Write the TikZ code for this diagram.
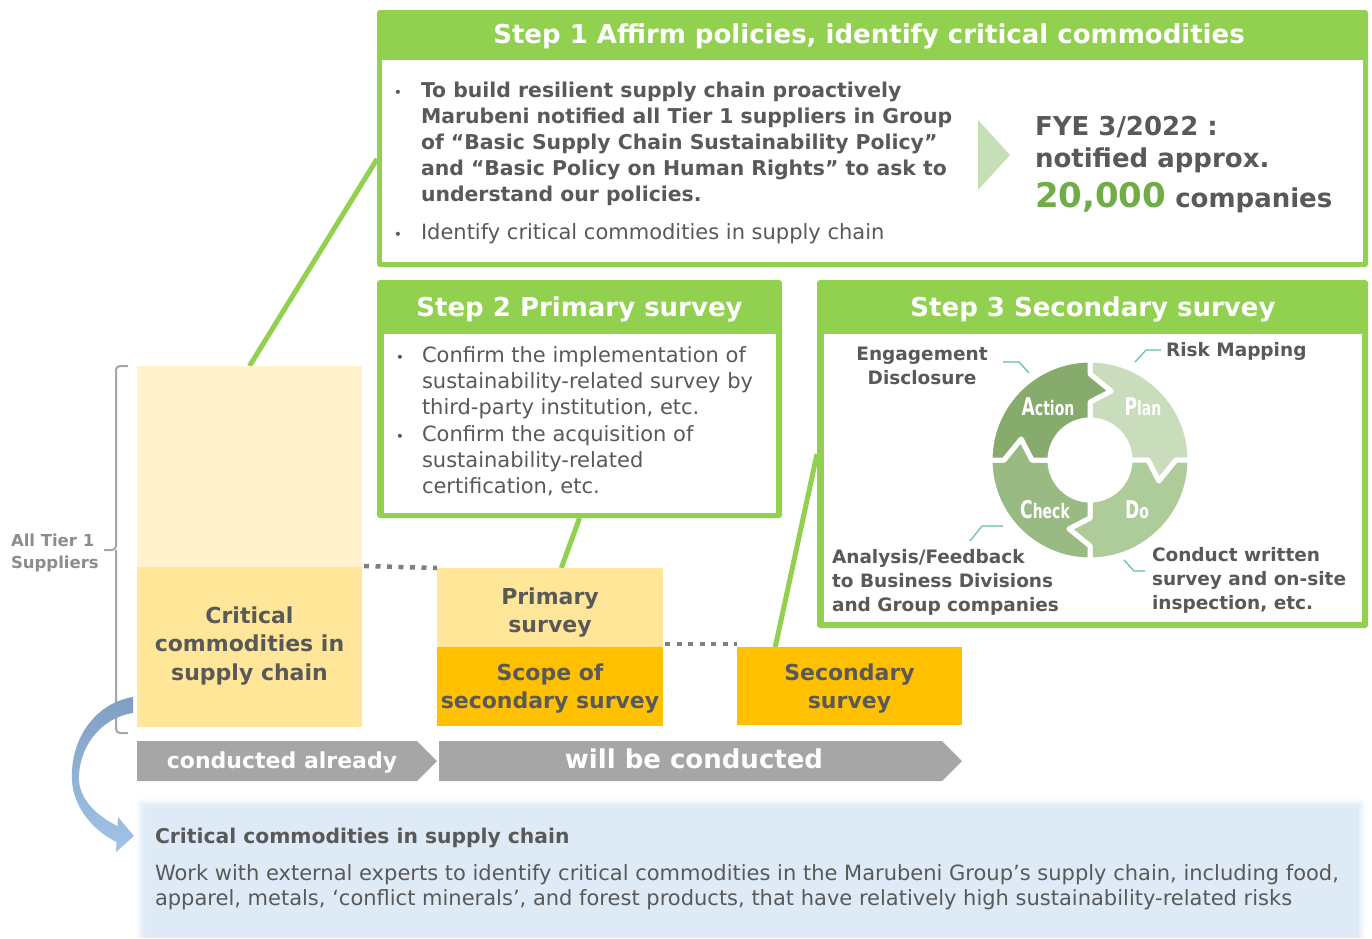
\documentclass[tikz,border=0pt]{standalone}
\usepackage{fontspec}
\setmainfont{DejaVu Sans}
\usepackage{graphicx}
\usetikzlibrary{calc,backgrounds}

\definecolor{stepgreen}{HTML}{92D050}
\definecolor{txtgray}{HTML}{595959}
\definecolor{numgreen}{HTML}{70AD47}
\definecolor{paleyellow}{HTML}{FFF2CC}
\definecolor{lightyellow}{HTML}{FFE699}
\definecolor{amber}{HTML}{FFC000}
\definecolor{chevgray}{HTML}{A6A6A6}
\definecolor{dotgray}{HTML}{7F7F7F}
\definecolor{tiergray}{HTML}{8C8C8C}
\definecolor{arrowpale}{HTML}{C5E0B4}
\definecolor{leadercol}{HTML}{5FC19E}
\definecolor{pdcaA}{HTML}{86AB6C}
\definecolor{pdcaP}{HTML}{C9DDBC}
\definecolor{pdcaD}{HTML}{AECC9A}
\definecolor{pdcaC}{HTML}{99BB83}
\definecolor{noteblue}{HTML}{DEEBF7}
\definecolor{arrowtop}{HTML}{7F9FC2}
\definecolor{arrowbot}{HTML}{A0C4E8}

\newcommand\setfs[2]{\fontsize{#1pt}{#2pt}\selectfont}
% one quarter of the PDCA ring: arrow tip at its leading end, notch at its trailing end
\newcommand\pdcapart[2]{%
  \filldraw[fill=#2, draw=white, line width=5pt, line join=round]
    (#1:100) arc[start angle=#1, end angle=#1+90, radius=100]
    -- (#1+90:86) -- (#1+90+17:72) -- (#1+90:58) -- (#1+90:40)
    arc[start angle=#1+90, end angle=#1, radius=40]
    -- (#1:58) -- (#1+17:72) -- (#1:86) -- cycle;}
% big initial + condensed rest for the cycle labels
\newcommand\cyclbl[2]{\scalebox{0.7}[1]{\bfseries{\setfs{24.5}{25}#1}{\setfs{20}{20}#2}}}

\begin{document}
\begin{tikzpicture}[x=1pt,y=-1pt,
  every node/.style={inner sep=0pt, outer sep=0pt},
  panel/.style={fill=stepgreen, rounded corners=3pt, anchor=north west},
  panelbody/.style={fill=white, anchor=north west},
  headtxt/.style={text=white, font=\bfseries\setfs{26}{30}, anchor=base},
  bodytxt/.style={text=txtgray, anchor=base west, align=left},
  bul/.style={text=txtgray, font=\setfs{14}{14}, anchor=base},
  block/.style={anchor=north west},
  blocktxt/.style={text=txtgray, font=\bfseries\setfs{22}{28.5}, align=center, anchor=base},
  chevtxt/.style={text=white, anchor=base},
  pdcalbl/.style={text=txtgray, font=\bfseries\setfs{18.5}{24}},
  ringtxt/.style={text=white, anchor=base},
  link/.style={stepgreen, line width=5pt},
  dots/.style={dotgray, line width=4.5pt, dash pattern=on 5pt off 6.5pt},
  leader/.style={leadercol, line width=1.2pt},
  brace/.style={chevgray, line width=2pt, rounded corners=4pt}]

\begin{scope}[on background layer]
  \fill[white] (0,0) rectangle (1372,938);
\end{scope}
\useasboundingbox (0,0) rectangle (1372,938);

% multi-line texts are anchored at the baseline of their last line

% ---------- Step 1 ----------
\node[panel, minimum width=991, minimum height=257] (s1) at (377,10) {};
\node[panelbody, minimum width=981, minimum height=202] (s1b) at (382,60) {};
\node[headtxt] (s1h) at (869,43) {Step 1 Affirm policies, identify critical commodities};
\node[bul] (s1d1) at (398,97) {•};
\node[bodytxt, font=\bfseries\setfs{20.4}{26.2}] (s1t1) at (421,201.8)
  {To build resilient supply chain proactively\\
   Marubeni notified all Tier 1 suppliers in Group\\
   of “Basic Supply Chain Sustainability Policy”\\
   and “Basic Policy on Human Rights” to ask to\\
   understand our policies.};
\node[bul] (s1d2) at (398,239) {•};
\node[bodytxt, font=\setfs{21}{26}] (s1t2) at (421,239) {Identify critical commodities in supply chain};
\fill[arrowpale] (978,120) -- (1010,155) -- (978,190) -- cycle;
\node[bodytxt, font=\bfseries\setfs{26}{32}] (fye) at (1035,167) {FYE 3/2022 :\\ notified approx.};
\node[bodytxt, font=\bfseries\setfs{26}{32}] (cnt) at (1035,207)
  {{\color{numgreen}\setfs{34}{34}20,000} companies};

% ---------- Step 2 ----------
\node[panel, minimum width=405, minimum height=238] (s2) at (377,280) {};
\node[panelbody, minimum width=392, minimum height=179] (s2b) at (384,334) {};
\node[headtxt] (s2h) at (579.5,316) {Step 2 Primary survey};
\node[bul] (s2d1) at (400,362) {•};
\node[bodytxt, font=\setfs{21}{26.3}] (s2t1) at (422,414.6)
  {Confirm the implementation of\\ sustainability-related survey by\\ third-party institution, etc.};
\node[bul] (s2d2) at (400,441) {•};
\node[bodytxt, font=\setfs{21}{26.3}] (s2t2) at (422,493.6)
  {Confirm the acquisition of\\ sustainability-related\\ certification, etc.};

% ---------- Step 3 ----------
\node[panel, minimum width=551, minimum height=348] (s3) at (817,280) {};
\node[panelbody, minimum width=538, minimum height=288] (s3b) at (824,334) {};
\node[headtxt] (s3h) at (1093,316) {Step 3 Secondary survey};

\begin{scope}[shift={(1090,460)}]
  \pdcapart{-90}{pdcaP}
  \pdcapart{0}{pdcaD}
  \pdcapart{90}{pdcaC}
  \pdcapart{180}{pdcaA}
\end{scope}
\node[ringtxt] (act) at (1048,415) {\cyclbl{A}{ction}};
\node[ringtxt] (pln) at (1143,415) {\cyclbl{P}{lan}};
\node[ringtxt] (chk) at (1045,518) {\cyclbl{C}{heck}};
\node[ringtxt] (dox) at (1137,518) {\cyclbl{D}{o}};

\node[pdcalbl, align=center, anchor=base] (eng) at (922,384) {Engagement\\ Disclosure};
\node[pdcalbl, anchor=base west] (risk) at (1166,356) {Risk Mapping};
\node[pdcalbl, align=left, anchor=base west] (ana) at (832,611) {Analysis/Feedback\\ to Business Divisions\\ and Group companies};
\node[pdcalbl, align=left, anchor=base west] (cond) at (1152,609) {Conduct written\\ survey and on-site\\ inspection, etc.};
\coordinate (engA) at (1003,362); \coordinate (engB) at (1019,362); \coordinate (engC) at (1029,373);
\coordinate (riskA) at (1135,362); \coordinate (riskB) at (1146,350); \coordinate (riskC) at (1161,350);
\coordinate (anaA) at (970,541); \coordinate (anaB) at (982,526); \coordinate (anaC) at (1003,526);
\coordinate (condA) at (1124,560); \coordinate (condB) at (1134,571); \coordinate (condC) at (1145,571);
\draw[leader] (engA) -- (engB) -- (engC);
\draw[leader] (riskA) -- (riskB) -- (riskC);
\draw[leader] (anaA) -- (anaB) -- (anaC);
\draw[leader] (condA) -- (condB) -- (condC);

% ---------- supplier blocks ----------
\node[block, fill=paleyellow, minimum width=225, minimum height=361] (supp) at (137,366) {};
\node[block, fill=lightyellow, minimum width=225, minimum height=160] (crit) at (137,567) {};
\node[blocktxt] (critt) at (249.5,680) {Critical\\ commodities in\\ supply chain};
\node[block, fill=lightyellow, minimum width=226, minimum height=79] (prim) at (437,568) {};
\node[blocktxt] (primt) at (550,632.5) {Primary\\ survey};
\node[block, fill=amber, minimum width=226, minimum height=79] (scope) at (437,647) {};
\node[blocktxt] (scopet) at (550,708.5) {Scope of\\ secondary survey};
\node[block, fill=amber, minimum width=225, minimum height=78] (sec) at (737,647) {};
\node[blocktxt] (sect) at (849.5,708.5) {Secondary\\ survey};

\draw[dots] (crit.north east) ++(2,-1) -- (prim.north west);
\draw[dots] (scope.north east) ++(2,-3) -- ($(sec.north west)+(0,-3)$);

% ---------- bracket for all suppliers ----------
\coordinate (brTop) at (128,366);
\coordinate (brMid) at (104,550);
\coordinate (brBot) at (128,733);
\draw[brace] (brTop) -- (116,366) -- (116,550) -- (brMid);
\draw[brace] (brBot) -- (116,733) -- (116,550);
\node[text=tiergray, font=\bfseries\setfs{16.5}{22}, align=left, anchor=base west] (tier) at (11,568) {All Tier 1\\ Suppliers};

% ---------- progress chevrons ----------
\fill[chevgray] (137,741) -- (417,741) -- (437,761) -- (417,781) -- (137,781) -- cycle;
\node[chevtxt, font=\bfseries\setfs{22}{22}] (done) at (282,768) {conducted already};
\fill[chevgray] (439,741) -- (942,741) -- (962,761) -- (942,781) -- (439,781) -- cycle;
\node[chevtxt, font=\bfseries\setfs{26}{26}] (todo) at (694,768) {will be conducted};

% ---------- note box ----------
\foreach \d/\o in {9/0.18,7/0.3,5/0.45,3/0.6,1.5/0.8}
  \fill[noteblue, opacity=\o] (146-\d,808-\d) rectangle (1356+\d,938);
\node[block, fill=noteblue, minimum width=1210, minimum height=130] (note) at (146,808) {};
\node[bodytxt, font=\bfseries\setfs{20.3}{26}] (notet) at (155,843) {Critical commodities in supply chain};
\node[bodytxt, font=\setfs{21}{25}] (noteb) at (155,905)
  {Work with external experts to identify critical commodities in the Marubeni Group’s supply chain, including food,\\
   apparel, metals, ‘conflict minerals’, and forest products, that have relatively high sustainability-related risks};

% ---------- curved arrow from the critical block to the note ----------
\shade[top color=arrowtop, bottom color=arrowbot]
  (133,697) .. controls (96,703) and (70,738) .. (72,780)
  .. controls (73,806) and (92,830) .. (116.5,842)
  -- (116,852) -- (134,836) -- (118,817) -- (117.5,826)
  .. controls (97,816) and (80,800) .. (79,780)
  .. controls (78,748) and (100,718) .. (133,713) -- cycle;

% ---------- green links from blocks to steps ----------
\begin{scope}[on background layer]
  \draw[link] (supp.north) -- ($(s1.south west)!0.42!(s1.north west)$);
  \draw[link] ($(prim.north west)!0.55!(prim.north east)$) -- (s2.south);
  \draw[link] ($(sec.north west)!0.17!(sec.north east)$) -- (s3.west);
\end{scope}
\end{tikzpicture}
\end{document}
